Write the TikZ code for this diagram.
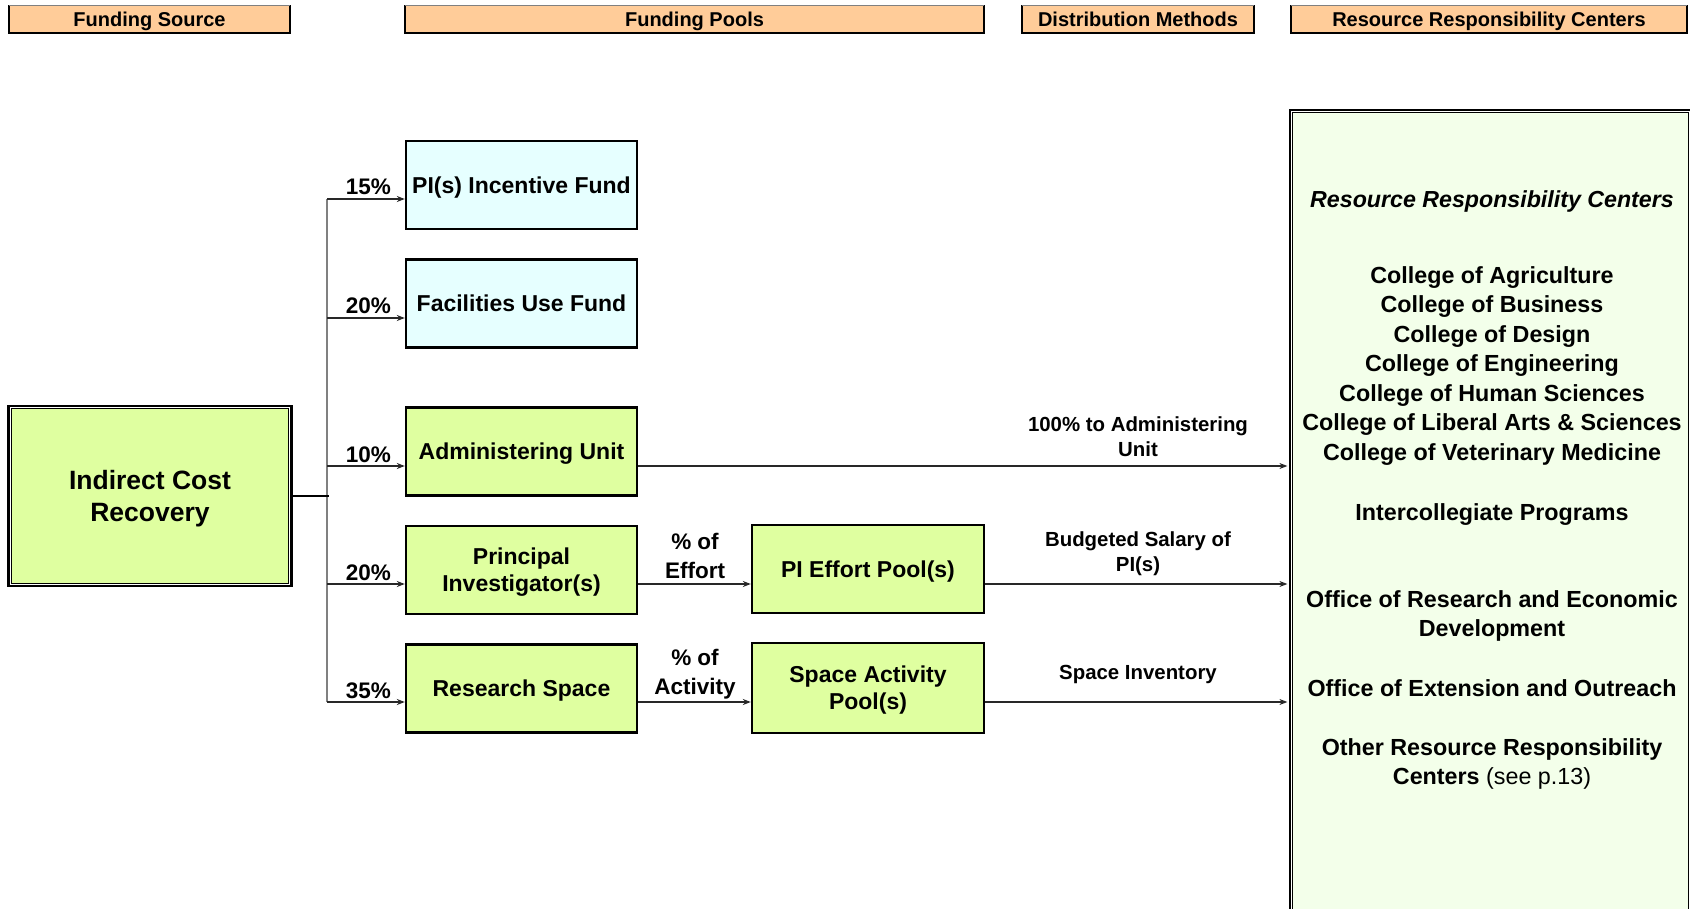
\documentclass[tikz,border=0pt]{standalone}
\usepackage{fontspec}
\setmainfont{Liberation Sans}
\usetikzlibrary{arrows.meta,calc}
\definecolor{hdrfill}{RGB}{255,204,153}
\definecolor{boxgreen}{RGB}{223,255,160}
\definecolor{boxcyan}{RGB}{230,255,255}
\definecolor{rrcfill}{RGB}{243,255,234}
\definecolor{linegray}{RGB}{40,40,40}
\definecolor{trunkgray}{RGB}{128,128,128}
\begin{document}
\begin{tikzpicture}[x=1pt,y=-1pt,
  hdr/.style={fill=hdrfill, inner sep=0, minimum height=27, text depth=0pt, font=\fontsize{20}{22}\selectfont\bfseries},
  bx/.style={draw=black, line width=2.4, fill=boxgreen, minimum width=231, minimum height=88, inner sep=0, align=center, text depth=0pt, font=\fontsize{23}{27}\selectfont\bfseries},
  cbx/.style={bx, fill=boxcyan},
  pct/.style={anchor=base east, inner sep=0, font=\fontsize{22.5}{27}\selectfont\bfseries},
  dist/.style={align=center, inner sep=0, font=\fontsize{20.4}{25}\selectfont\bfseries},
  mid/.style={align=center, inner sep=0, font=\fontsize{22.5}{29}\selectfont\bfseries},
  rrct/.style={align=center, inner sep=0, text depth=0pt, font=\fontsize{23.3}{29.5}\selectfont\bfseries},
  arr/.style={draw=linegray, line width=1.1, -{Stealth[length=8pt,width=6pt]}},
]
\useasboundingbox (0,0) rectangle (1690,909);
\clip (0,0) rectangle (1690,909);

% headers
\node[hdr, minimum width=281] (hfs) at (149.5,19) {Funding Source};
\node[hdr, minimum width=579] (hfp) at (694.5,19) {Funding Pools};
\node[hdr, minimum width=232] (hdm) at (1138,19) {Distribution Methods};
\node[hdr, minimum width=396] (hrrc) at (1489,19) {Resource Responsibility Centers};
\foreach \h in {hfs,hfp,hdm,hrrc}{
  \draw[line width=1.8] (\h.north west) -- (\h.south west) -- (\h.south east) -- (\h.north east);
  \draw[gray, line width=0.8] (\h.north west) -- (\h.north east);
}

% Indirect Cost Recovery
\node[draw=black, line width=2.7, fill=white, minimum width=283, minimum height=180, inner sep=0] (icr) at (150,496) {};
\draw[line width=1, fill=boxgreen] ([shift={(4,4)}]icr.north west) rectangle ([shift={(-4,-4)}]icr.south east);
\node[font=\fontsize{26.5}{32}\selectfont\bfseries, align=center, inner sep=0, text depth=0pt] (icrtext) at (icr.center) {Indirect Cost\\Recovery};

% RRC big box
\node[draw=black, line width=2.2, fill=white, minimum width=410, minimum height=840, inner sep=0] (rrc) at (1495,530) {};
\draw[line width=1.4, fill=rrcfill] ([shift={(3.6,3.6)}]rrc.north west) rectangle (1688.5,945);
\node[rrct, font=\fontsize{23.2}{27}\selectfont\bfseries\itshape] (rrctitle) at (1492,199) {Resource Responsibility Centers};
\node[rrct] (colleges) at (1492,363.5) {College of Agriculture\\College of Business\\College of Design\\College of Engineering\\College of Human Sciences\\College of Liberal Arts \& Sciences\\College of Veterinary Medicine};
\node[rrct] (intercol) at (1492,512) {Intercollegiate Programs};
\node[rrct] (ored) at (1492,613.5) {Office of Research and Economic\\Development};
\node[rrct] (oeo) at (1492,688) {Office of Extension and Outreach};
\node[rrct] (other) at (1492,761.5) {Other Resource Responsibility\\Centers \mdseries(see p.13)};

% funding pool boxes
\node[cbx] (pif) at (521.5,185) {PI(s) Incentive Fund};
\node[cbx] (fuf) at (521.5,303.5) {Facilities Use Fund};
\node[bx] (adm) at (521.5,451.5) {Administering Unit};
\node[bx] (pi) at (521.5,570) {Principal\\Investigator(s)};
\node[bx] (rs) at (521.5,688.5) {Research Space};
\node[bx, minimum width=232] (pep) at (868,569) {PI Effort Pool(s)};
\node[bx, minimum width=232, minimum height=90] (sap) at (868,688) {Space Activity\\Pool(s)};

% trunk
\coordinate (t1) at (327,199);
\coordinate (t2) at (327,318);
\coordinate (t3) at (327,466);
\coordinate (t4) at (327,584);
\coordinate (t5) at (327,702);
\draw[trunkgray, line width=1.3] (t1) -- (t5);
\draw[line width=2.2] (icr.east) -- ($(icr.east -| t3)+(2,0)$);

\draw[arr] (t1) -- (t1 -| pif.west);
\draw[arr] (t2) -- (t2 -| fuf.west);
\draw[arr] (t3) -- (t3 -| adm.west);
\draw[arr] (t4) -- (t4 -| pi.west);
\draw[arr] (t5) -- (t5 -| rs.west);

\node[pct] (p1) at ($(t1)+(64,-4)$) {15\%};
\node[pct] (p2) at ($(t2)+(64,-4)$) {20\%};
\node[pct] (p3) at ($(t3)+(64,-4)$) {10\%};
\node[pct] (p4) at ($(t4)+(64,-4)$) {20\%};
\node[pct] (p5) at ($(t5)+(64,-4)$) {35\%};

% second stage
\draw[arr] (t4 -| pi.east) -- (t4 -| pep.west);
\draw[arr] (t5 -| rs.east) -- (t5 -| sap.west);
\node[mid] (leff) at (695,555.5) {\% of\\Effort};
\node[mid] (lact) at (695,674) {\% of\\Activity};

% distribution arrows
\draw[arr, shorten >=1.5pt] (t3 -| adm.east) -- (t3 -| rrc.west);
\draw[arr, shorten >=1.5pt] (t4 -| pep.east) -- (t4 -| rrc.west);
\draw[arr, shorten >=1.5pt] (t5 -| sap.east) -- (t5 -| rrc.west);
\node[dist] (ladm) at (1138,436.5) {100\% to Administering\\Unit};
\node[dist] (lbud) at (1138,554) {Budgeted Salary of\\PI(s)};
\node[dist] (lspc) at (1138,674.5) {Space Inventory};
\end{tikzpicture}
\end{document}
